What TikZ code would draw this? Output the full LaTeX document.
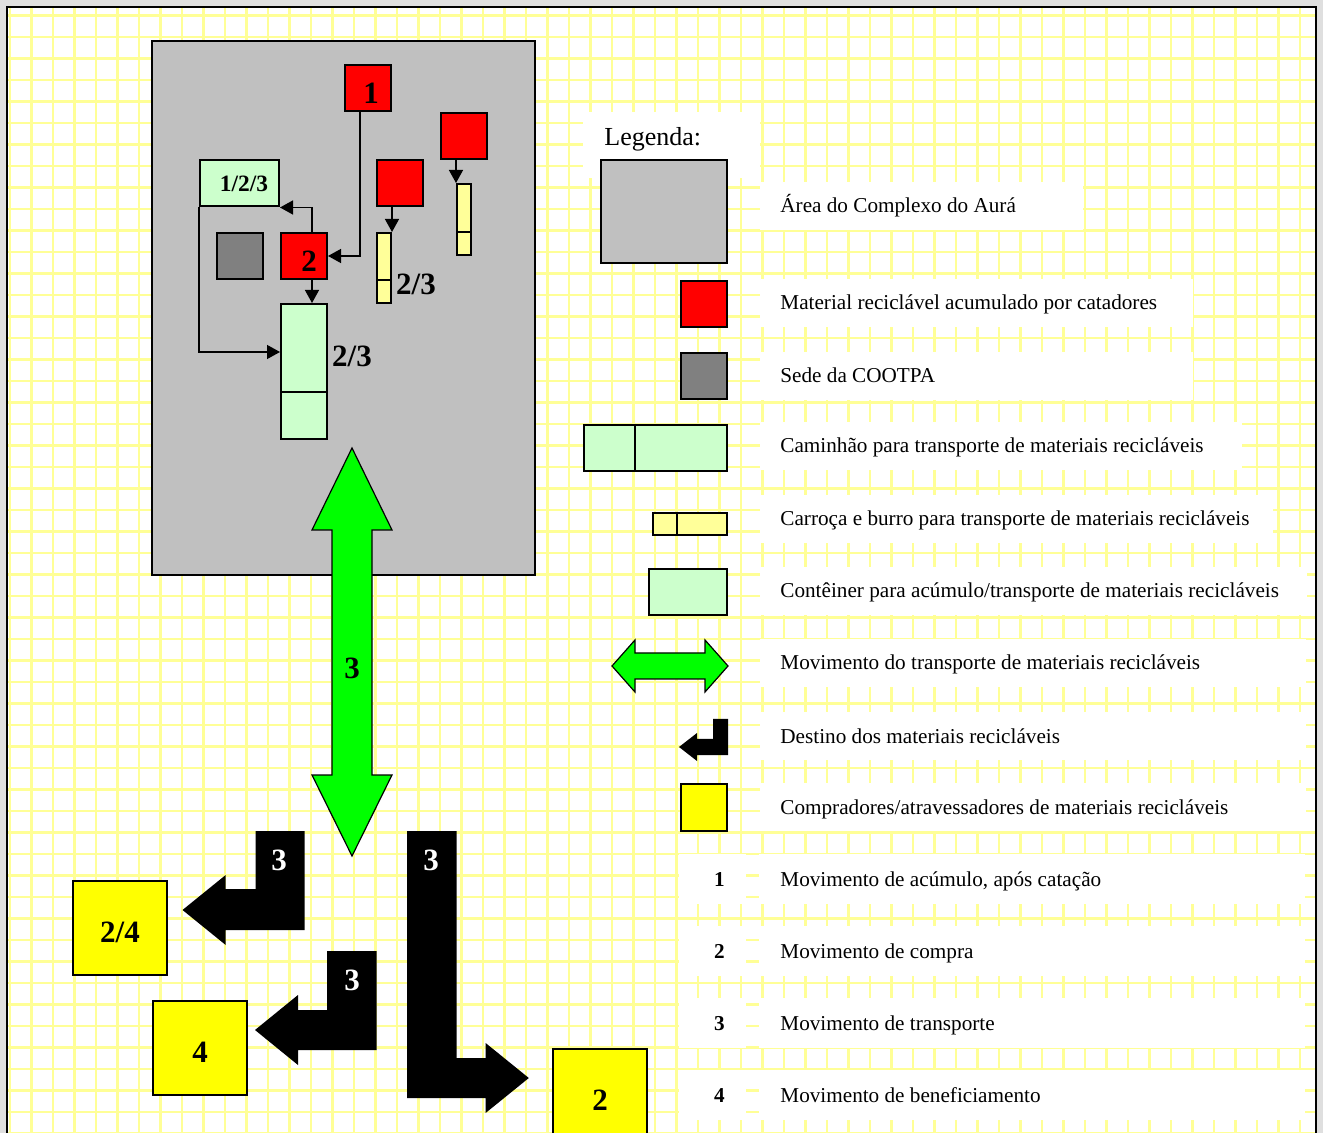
\documentclass[tikz,border=0pt]{standalone}
\usepackage{fontspec}
\setmainfont{Liberation Serif}
\usetikzlibrary{arrows.meta}

\definecolor{areagray}{RGB}{192,192,192}
\definecolor{sedegray}{RGB}{128,128,128}
\definecolor{boxgreen}{RGB}{204,255,204}
\definecolor{cartyellow}{RGB}{255,255,153}
\definecolor{gridyellow}{RGB}{255,255,150}
\definecolor{movegreen}{RGB}{0,255,0}
\definecolor{buyeryellow}{RGB}{255,255,0}

\begin{document}
\begin{tikzpicture}
[x=0.5pt,y=-0.5pt,
 be/.style={draw=black,line width=0.7pt,arrows={-Triangle[length=6.5pt,width=7pt]}},
 gridline/.style={draw=gridyellow,line width=1.3pt},
 box/.style={draw=black,line width=1pt,inner sep=0pt,minimum width=23pt,minimum height=23pt},
 area/.style={box,fill=areagray},
 catador/.style={box,fill=red},
 sede/.style={box,fill=sedegray},
 conteiner/.style={box,fill=boxgreen},
 carroca/.style={box,fill=cartyellow,minimum width=7pt},
 comprador/.style={box,fill=buyeryellow,minimum width=47pt,minimum height=47pt},
 divider/.style={draw=black,line width=1pt},
 bigtxt/.style={inner sep=0pt,font=\bfseries\fontsize{15.5}{18}\selectfont},
 legtxt/.style={anchor=base west,inner sep=0pt,font=\fontsize{10.6}{13}\selectfont},
 legnum/.style={anchor=base,inner sep=0pt,font=\bfseries\fontsize{10.6}{13}\selectfont},
 movimento/.style={draw=black,line width=0.6pt,fill=movegreen},
 destino/.style={fill=black}]
\useasboundingbox (0,0) rectangle (1323,1133);
\clip (0,0) rectangle (1323,1133);
\fill[gray!25] (0,0) rectangle (1323,1133);
\fill[white] (7,7) rectangle (1316,1140);
\foreach \i in {0,...,60}
  \draw[gridline] (10+21.5*\i,7) -- (10+21.5*\i,1140);
\foreach \j in {0,...,52}
  \draw[gridline] (7,15.5+21.5*\j) -- (1316,15.5+21.5*\j);
\draw[line width=1pt] (7,1140) -- (7,7) -- (1316,7) -- (1316,1140);

\fill[white] (583,112) rectangle (760,178);
\node[legtxt,font=\fontsize{13}{15}\selectfont] (legenda) at (604,146) {Legenda:};
\foreach \y/\r/\legtext [count=\k] in {
  206/1083/{Área do Complexo do Aurá},
  303/1193/{Material reciclável acumulado por catadores},
  376/1193/{Sede da COOTPA},
  446/1242/{Caminhão para transporte de materiais recicláveis},
  519/1273/{Carroça e burro para transporte de materiais recicláveis},
  591/1307/{Contêiner para acúmulo/transporte de materiais recicláveis},
  663/1306/{Movimento do transporte de materiais recicláveis},
  736/1306/{Destino dos materiais recicláveis},
  807/1306/{Compradores/atravessadores de materiais recicláveis}}
{
  \fill[white] (760,\y-24) rectangle (\r,\y+24);
  \node[legtxt] (leg\k) at (780,\y+7) {\legtext};
}
\foreach \y/\nr/\legtext in {
  879/1/{Movimento de acúmulo, após catação},
  951/2/{Movimento de compra},
  1023/3/{Movimento de transporte},
  1095/4/{Movimento de beneficiamento}}
{
  \fill[white] (679,\y-25) rectangle (746,\y+25);
  \fill[white] (759,\y-25) rectangle (1305,\y+25);
  \node[legnum] (num\nr) at (719.5,\y+7) {\nr};
  \node[legtxt] (mov\nr) at (780,\y+7) {\legtext};
}

\node[area,minimum width=63pt,minimum height=51.5pt] (lgarea) at (664,211.5) {};
\node[catador] (lgcatador) at (704,304) {};
\node[sede] (lgsede) at (704,376) {};
\node[conteiner,minimum width=71.5pt] (lgcaminhao) at (655.5,448) {};
\draw[divider] ([xshift=26pt]lgcaminhao.north west) -- ([xshift=26pt]lgcaminhao.south west);
\node[carroca,minimum width=37pt,minimum height=11pt] (lgcarroca) at (690,524) {};
\draw[divider] ([xshift=12.5pt]lgcarroca.north west) -- ([xshift=12.5pt]lgcarroca.south west);
\node[conteiner,minimum width=39pt] (lgconteiner) at (688,592) {};
\draw[movimento] (612,666) -- (635,640) -- (635,653) -- (705,653) -- (705,640) -- (728,666)
  -- (705,692) -- (705,679) -- (635,679) -- (635,692) -- cycle;
\fill[destino] (728,719) -- (713,719) -- (713,739) -- (697,739) -- (697,733) -- (679,747)
  -- (697,761) -- (697,755) -- (728,755) -- cycle;
\node[comprador,minimum width=23pt,minimum height=23.5pt] (lgcomprador) at (704,807.5) {};

\node[area,minimum width=191.5pt,minimum height=267pt] (aura) at (343.5,308) {};
\node[catador] (cat1) at (368,88) {};
\node[catador] (cat2) at (304,256) {};
\node[catador] (cat3) at (400,183.5) {};
\node[catador] (cat4) at (463.5,136) {};
\node[conteiner,minimum width=39.5pt] (cont123) at (239.5,183.5) {};
\node[sede] (cootpa) at (240,256) {};
\node[conteiner,minimum height=67.5pt] (caminhao) at (304,371.5) {};
\draw[divider] ([yshift=24pt]caminhao.south west) -- ([yshift=24pt]caminhao.south east);
\node[carroca,minimum height=35pt] (carroca1) at (384,268) {};
\draw[divider] ([yshift=12pt]carroca1.south west) -- ([yshift=12pt]carroca1.south east);
\node[carroca,minimum height=35.5pt] (carroca2) at (464,219.5) {};
\draw[divider] ([yshift=12pt]carroca2.south west) -- ([yshift=12pt]carroca2.south east);

\node[bigtxt] (n1) at (371,93) {1};
\node[bigtxt] (n2) at (309,261) {2};
\node[bigtxt,font=\bfseries\fontsize{11.7}{14}\selectfont] (n123) at (244,184) {1/2/3};
\node[bigtxt] (ncaminhao) at (352,356) {2/3};
\node[bigtxt] (ncarroca) at (416,284) {2/3};

\draw[be] ([xshift=-4pt]cat1.south) |- (cat2.east);
\draw[be] ([xshift=4pt]cat2.north) |- (cont123.south east);
\draw[be] ([xshift=4pt]cat2.south) -- ([xshift=4pt]caminhao.north);
\draw[be] (cont123.south west) |- ([yshift=9.75pt]caminhao.west);
\draw[be] (cat3.south -| carroca1.east) -- (carroca1.north east);
\draw[be] (cat4.south -| carroca2.west) -- (carroca2.north west);

\draw[movimento] (352,448) -- (392,530) -- (372,530) -- (372,775) -- (392,775) -- (352,856)
  -- (312,775) -- (332,775) -- (332,530) -- (312,530) -- cycle;
\node[bigtxt] (ntransporte) at (352,668) {3};

\fill[destino] (304.5,831) -- (255.6,831) -- (255.6,889) -- (225.7,889) -- (225.7,875) -- (182.5,910)
  -- (225.7,945) -- (225.7,930) -- (304.5,930) -- cycle;
\fill[destino] (376.5,951) -- (327,951) -- (327,1010) -- (298,1010) -- (298,995) -- (255,1030)
  -- (298,1065) -- (298,1050) -- (376.5,1050) -- cycle;
\fill[destino] (407,831) -- (456.5,831) -- (456.5,1058) -- (485.6,1058) -- (485.6,1043) -- (528.8,1078)
  -- (485.6,1113) -- (485.6,1098) -- (407,1098) -- cycle;
\node[bigtxt,text=white] (d1) at (279,860) {3};
\node[bigtxt,text=white] (d2) at (352,980) {3};
\node[bigtxt,text=white] (d3) at (431,860) {3};

\node[comprador] (comp24) at (120,928) {};
\node[comprador] (comp4) at (200,1048) {};
\node[comprador] (comp2) at (600,1096) {};
\node[bigtxt] (n24) at (120,932) {2/4};
\node[bigtxt] (n4) at (200,1052) {4};
\node[bigtxt] (n2b) at (600,1100) {2};
\end{tikzpicture}
\end{document}
